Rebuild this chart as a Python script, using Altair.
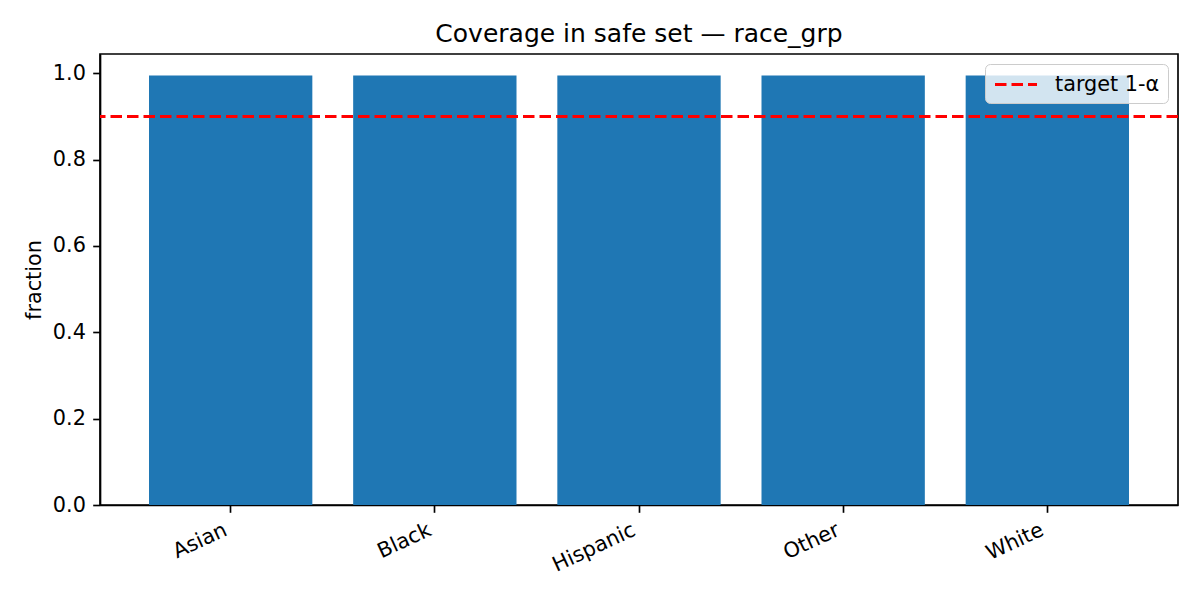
import altair as alt
import pandas as pd

groups = ["Asian", "Black", "Hispanic", "Other", "White"]
coverage = [0.995, 0.995, 0.995, 0.995, 0.995]
target_label = ["target 1-α"]
target_value = [0.9]

bars_df = pd.DataFrame({"group": groups, "fraction": coverage})
line_df = pd.DataFrame({"label": target_label, "y": target_value})

FONT = "DejaVu Sans"
LW = 1.67

yscale = alt.Scale(domain=[0, 1.0447], nice=False, zero=True)

bars = alt.Chart(bars_df).mark_bar(color="#1f77b4").encode(
    x=alt.X(
        "group:N",
        sort=groups,
        title=None,
        scale=alt.Scale(paddingInner=0.2, paddingOuter=0.24),
        axis=alt.Axis(
            labelAngle=-25,
            labelAlign="right",
            labelBaseline="top",
            labelOffset=-9,
        ),
    ),
    y=alt.Y(
        "fraction:Q",
        scale=yscale,
        title="fraction",
        axis=alt.Axis(values=[0, 0.2, 0.4, 0.6, 0.8, 1.0], format=".1f", titlePadding=8),
    ),
)

rule = alt.Chart(line_df).mark_rule(strokeDash=[11.5, 5], strokeWidth=3.1, opacity=1).encode(
    y=alt.Y("y:Q", scale=yscale),
    color=alt.Color(
        "label:N",
        scale=alt.Scale(domain=target_label, range=["#ff0000"]),
        legend=alt.Legend(
            title=None,
            orient="top-right",
            offset=10,
            symbolType="M-1,0H3",
            symbolSize=441,
            symbolStrokeWidth=3.1,
            symbolDash=[11.5, 5],
            symbolFillColor="transparent",
            symbolOpacity=1,
            labelFontSize=20.8,
            labelFont=FONT,
            labelColor="black",
            labelOffset=37,
            labelLimit=400,
            padding=8,
            fillColor="rgba(255,255,255,0.8)",
            strokeColor="#cccccc",
            cornerRadius=5,
        ),
    ),
)

chart = (
    alt.layer(bars, rule)
    .properties(
        width=1078,
        height=451,
        title=alt.Title(
            "Coverage in safe set — race_grp",
            fontSize=25,
            font=FONT,
            fontWeight="normal",
            color="black",
            anchor="middle",
            frame="group",
            baseline="alphabetic",
            offset=12,
            dy=25,
        ),
        autosize=alt.AutoSizeParams(type="none"),
        padding={"left": 92, "top": 46, "right": 14, "bottom": 87},
    )
    .configure(font=FONT)
    .configure_view(stroke="black", strokeWidth=LW)
    .configure_axis(
        grid=False,
        domainColor="black",
        domainWidth=LW,
        tickColor="black",
        tickWidth=LW,
        tickSize=7.3,
        labelPadding=7.3,
        labelFontSize=20.8,
        labelFont=FONT,
        labelColor="black",
        titleFontSize=20.8,
        titleFont=FONT,
        titleFontWeight="normal",
        titleColor="black",
    )
)

chart.save("out.html", embed_options={"renderer": "svg", "actions": False})
